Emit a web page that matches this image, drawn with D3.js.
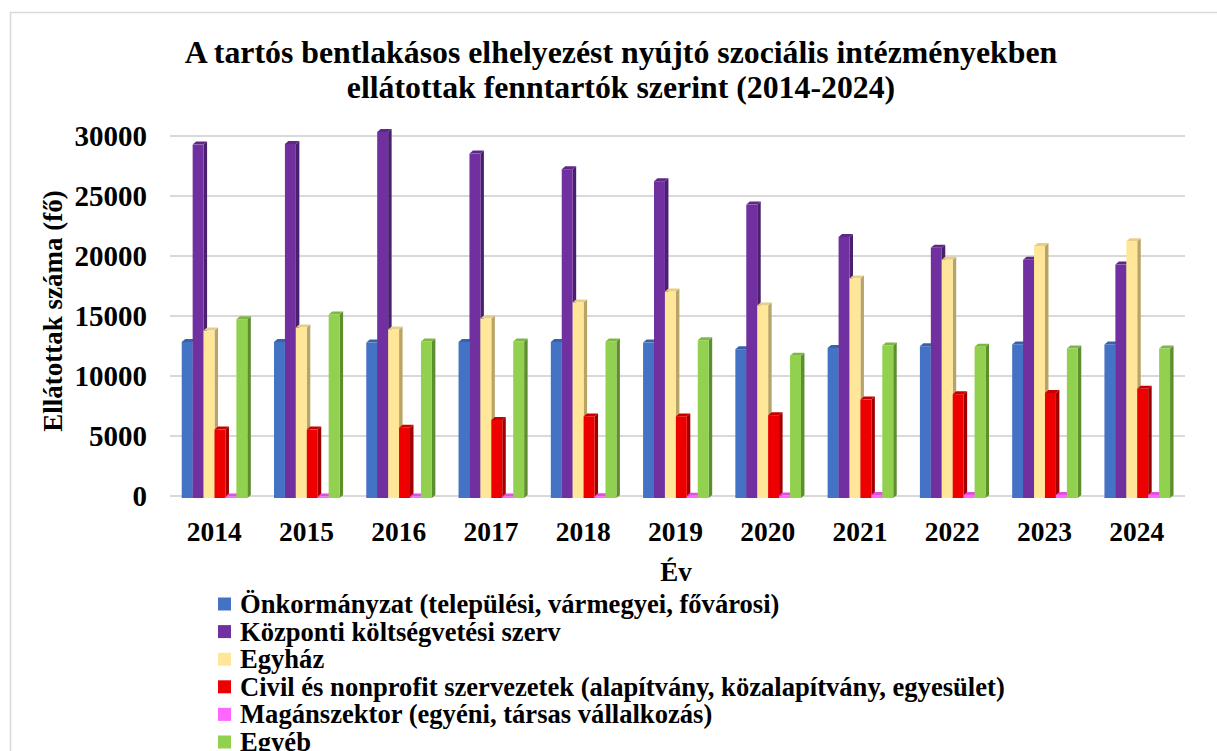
<!DOCTYPE html>
<html>
<head>
<meta charset="utf-8">
<script src="https://cdn.jsdelivr.net/npm/d3@7"></script>
<style>
  html, body { margin: 0; padding: 0; background: #fff; }
  svg text { font-family: "Liberation Serif", "Times New Roman", serif; font-weight: bold; fill: #000; }
</style>
</head>
<body>
<svg id="chart" width="1217" height="751"></svg>
<script>
const years = ["2014","2015","2016","2017","2018","2019","2020","2021","2022","2023","2024"];
const seriesNames = [
  "Önkormányzat (települési, vármegyei, fővárosi)",
  "Központi költségvetési szerv",
  "Egyház",
  "Civil és nonprofit szervezetek (alapítvány, közalapítvány, egyesület)",
  "Magánszektor (egyéni, társas vállalkozás)",
  "Egyéb"
];
const onkormanyzat = [13000, 13000, 12950, 13000, 13000, 12950, 12400, 12500, 12650, 12800, 12800];
const kozponti     = [29450, 29500, 30500, 28700, 27400, 26400, 24450, 21750, 20850, 19850, 19450];
const egyhaz       = [13950, 14200, 14050, 14950, 16300, 17200, 16050, 18300, 19850, 21000, 21400];
const civil        = [5700, 5700, 5850, 6500, 6800, 6800, 6900, 8200, 8650, 8750, 9100];
const magan        = [120, 120, 120, 130, 150, 180, 200, 250, 260, 260, 260];
const egyeb        = [14900, 15300, 13050, 13050, 13050, 13150, 11850, 12700, 12600, 12450, 12450];
const yTicks = [0, 5000, 10000, 15000, 20000, 25000, 30000];
const seriesValues = [onkormanyzat, kozponti, egyhaz, civil, magan, egyeb];
const frontColors = ["#4472C4", "#7030A0", "#FFE699", "#EE0000", "#FF66FF", "#92D050"];
const sideColors  = ["#2F528F", "#4B1F6F", "#B8A467", "#A00000", "#C040C0", "#5E8F2E"];
const topColors   = ["#3A62AA", "#5E2889", "#E6CF85", "#C80000", "#E050E0", "#7DB843"];

const svg = d3.select("#chart");

// outer border
svg.append("rect").attr("x", 10.5).attr("y", 12.5).attr("width", 1215).attr("height", 750)
  .attr("fill", "none").attr("stroke", "#d9d9d9").attr("stroke-width", 1.5);

// title
const title = svg.append("text").attr("text-anchor", "middle").attr("font-size", 31.8);
title.append("tspan").attr("x", 621).attr("y", 63).text("A tartós bentlakásos elhelyezést nyújtó szociális intézményekben");
title.append("tspan").attr("x", 621).attr("y", 98).text("ellátottak fenntartók szerint (2014-2024)");

const x0 = d3.scaleBand().domain(years).range([170, 1185]).paddingInner(0).paddingOuter(0);
const x1 = d3.scaleBand().domain(d3.range(seriesNames.length))
  .range([x0.bandwidth() * 0.127, x0.bandwidth() * 0.838]).padding(0);
const y = d3.scaleLinear().domain([0, 30000]).range([496, 136]);

// gridlines
svg.append("g").selectAll("line").data(yTicks).join("line")
  .attr("x1", 170).attr("x2", 1185)
  .attr("y1", d => y(d)).attr("y2", d => y(d))
  .attr("stroke", "#d9d9d9").attr("stroke-width", 2);

// y axis labels
const yAxis = d3.axisLeft(y).tickValues(yTicks).tickSize(0).tickPadding(0).tickFormat(d3.format("d"));
const gy = svg.append("g").attr("transform", "translate(147,0)").call(yAxis);
gy.select(".domain").remove();
gy.selectAll("text").attr("font-size", 29).attr("dy", "0.34em")
  .style("font-family", "'Liberation Serif', 'Times New Roman', serif").style("font-weight", "bold");

// x axis labels
const xAxis = d3.axisBottom(x0).tickSize(0).tickPadding(0);
const gx = svg.append("g").attr("transform", "translate(-2,541)").call(xAxis);
gx.select(".domain").remove();
gx.selectAll("text").attr("font-size", 27.5).attr("dy", 0)
  .style("font-family", "'Liberation Serif', 'Times New Roman', serif").style("font-weight", "bold");

// axis titles
svg.append("text").attr("transform", "translate(62,311) rotate(-90)").attr("text-anchor", "middle")
  .attr("font-size", 27).text("Ellátottak száma (fő)");
svg.append("text").attr("x", 676).attr("y", 581).attr("text-anchor", "middle")
  .attr("font-size", 27).text("Év");

// 3D-ish bars
const dx = 3.5, dy = 3, off = 2;
const bars = [];
years.forEach((yr, i) => {
  seriesValues.forEach((vals, s) => {
    bars.push({ yr, s, v: vals[i] });
  });
});
const gb = svg.append("g");
bars.forEach(b => {
  const xl = x0(b.yr) + x1(b.s);
  const w = x1.bandwidth();
  const top = y(b.v) + off;
  const bot = y(0) + off;
  const g = gb.append("g");
  g.append("polygon")
    .attr("points", [[xl + w, top], [xl + w + dx, top - dy], [xl + w + dx, bot - dy], [xl + w, bot]].join(" "))
    .attr("fill", sideColors[b.s]);
  g.append("polygon")
    .attr("points", [[xl, top], [xl + dx, top - dy], [xl + w + dx, top - dy], [xl + w, top]].join(" "))
    .attr("fill", topColors[b.s]);
  g.append("rect").attr("x", xl).attr("y", top).attr("width", w).attr("height", Math.max(0, bot - top))
    .attr("fill", frontColors[b.s]);
});

// legend
const lg = svg.append("g");
seriesNames.forEach((name, i) => {
  const yy = 604 + i * 27.6;
  lg.append("rect").attr("x", 218).attr("y", yy - 6.5).attr("width", 13).attr("height", 13)
    .attr("fill", frontColors[i]);
  lg.append("text").attr("x", 240).attr("y", yy + 9).attr("font-size", 26.6).text(name);
});
</script>
</body>
</html>
